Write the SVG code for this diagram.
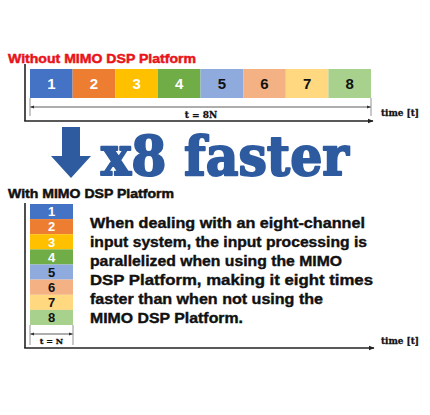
<svg xmlns="http://www.w3.org/2000/svg" width="430" height="415" viewBox="0 0 430 415">
<defs>
<style>
.title{font-family:"Liberation Sans",Arial,sans-serif;font-weight:bold;font-size:13px;stroke-width:0.5px}
.num{font-family:"Liberation Sans",Arial,sans-serif;font-weight:bold;text-anchor:middle}
.w{fill:#fff}.k{fill:#111}
.slab{font-family:"DejaVu Serif",serif;font-weight:bold;fill:#111;stroke:#111;stroke-width:0.3px}
.para{font-family:"Liberation Sans",Arial,sans-serif;font-weight:bold;font-size:15px;fill:#111;stroke:#111;stroke-width:0.4px}
.axis{stroke:#222;stroke-width:1.6;fill:none}
.dim{stroke:#333;stroke-width:0.8;fill:none}
.tick{stroke:#777;stroke-width:0.8;fill:none}
</style>
<marker id="ah" viewBox="0 0 10 10" refX="9" refY="5" markerWidth="6" markerHeight="6" orient="auto-start-reverse" markerUnits="userSpaceOnUse"><path d="M0,1 L10,5 L0,9 z" fill="#222"/></marker>
<marker id="dh" viewBox="0 0 10 10" refX="9" refY="5" markerWidth="4" markerHeight="4" orient="auto-start-reverse" markerUnits="userSpaceOnUse"><path d="M0,1 L10,5 L0,9 z" fill="#333"/></marker>
</defs>
<rect width="430" height="415" fill="#fff"/>

<g id="title-without">
<text class="title" x="8" y="63" fill="#E8141B" stroke="#E8141B" textLength="188" lengthAdjust="spacingAndGlyphs">Without MIMO DSP Platform</text>
</g>

<g id="sequential-bar">
<rect x="30" y="69" width="42.6" height="29" fill="#4472C4"/>
<rect x="72.6" y="69" width="42.7" height="29" fill="#ED7D31"/>
<rect x="115.3" y="69" width="42.6" height="29" fill="#FFC000"/>
<rect x="157.9" y="69" width="42.6" height="29" fill="#70AD47"/>
<rect x="200.5" y="69" width="42.7" height="29" fill="#8FAADC"/>
<rect x="243.2" y="69" width="42.6" height="29" fill="#F4B183"/>
<rect x="285.8" y="69" width="42.6" height="29" fill="#FFD880"/>
<rect x="328.4" y="69" width="42.6" height="29" fill="#A9D18E"/>
<g font-size="15">
<text class="num w" x="51.3" y="89">1</text>
<text class="num w" x="94" y="89">2</text>
<text class="num w" x="136.6" y="89">3</text>
<text class="num w" x="179.2" y="89">4</text>
<text class="num k" x="221.8" y="89">5</text>
<text class="num k" x="264.5" y="89">6</text>
<text class="num k" x="307.1" y="89">7</text>
<text class="num k" x="349.7" y="89">8</text>
</g>
</g>

<g id="arrow-faster">
<path d="M62,127 H80 V156 H91 L71,178 L51,156 H62 Z" fill="#2E5B9F"/>
<text x="101" y="175" font-family="DejaVu Serif,serif" font-weight="bold" font-size="55" fill="#2E5B9F" stroke="#2E5B9F" stroke-width="2" stroke-linejoin="round" textLength="248" lengthAdjust="spacingAndGlyphs">x8 faster</text>
</g>

<g id="title-with">
<text class="title" x="8" y="198" fill="#111" stroke="#111" font-size="12" textLength="166" lengthAdjust="spacingAndGlyphs">With MIMO DSP Platform</text>
</g>

<g id="parallel-stack">
<rect x="30" y="204" width="43" height="15.1" fill="#4472C4"/>
<rect x="30" y="219.1" width="43" height="15.1" fill="#ED7D31"/>
<rect x="30" y="234.2" width="43" height="15.2" fill="#FFC000"/>
<rect x="30" y="249.4" width="43" height="15.1" fill="#70AD47"/>
<rect x="30" y="264.5" width="43" height="15.1" fill="#8FAADC"/>
<rect x="30" y="279.6" width="43" height="15.2" fill="#F4B183"/>
<rect x="30" y="294.8" width="43" height="15.1" fill="#FFD880"/>
<rect x="30" y="309.9" width="43" height="15.1" fill="#A9D18E"/>
<g font-size="13">
<text class="num w" x="51.5" y="216.3">1</text>
<text class="num w" x="51.5" y="231.4">2</text>
<text class="num w" x="51.5" y="246.6">3</text>
<text class="num w" x="51.5" y="261.7">4</text>
<text class="num k" x="51.5" y="276.8">5</text>
<text class="num k" x="51.5" y="292">6</text>
<text class="num k" x="51.5" y="307.1">7</text>
<text class="num k" x="51.5" y="322.2">8</text>
</g>
</g>

<g id="description">
<text class="para" x="90" y="228" textLength="275" lengthAdjust="spacingAndGlyphs">When dealing with an eight-channel</text>
<text class="para" x="90" y="247" textLength="277" lengthAdjust="spacingAndGlyphs">input system, the input processing is</text>
<text class="para" x="90" y="266" textLength="252" lengthAdjust="spacingAndGlyphs">parallelized when using the MIMO</text>
<text class="para" x="90" y="285" textLength="283" lengthAdjust="spacingAndGlyphs">DSP Platform, making it eight times</text>
<text class="para" x="90" y="304" textLength="233" lengthAdjust="spacingAndGlyphs">faster than when not using the</text>
<text class="para" x="90" y="323" textLength="153" lengthAdjust="spacingAndGlyphs">MIMO DSP Platform.</text>
</g>

<g id="connectors">
<line class="axis" x1="25" y1="64" x2="25" y2="121"/>
<line class="axis" x1="24.2" y1="121" x2="373" y2="121" marker-end="url(#ah)"/>
<line class="tick" x1="30" y1="98" x2="30" y2="116"/>
<line class="tick" x1="371" y1="98" x2="371" y2="116"/>
<line class="dim" x1="30.5" y1="107" x2="370.5" y2="107" marker-start="url(#dh)" marker-end="url(#dh)"/>
<line class="axis" x1="25" y1="203" x2="25" y2="348"/>
<line class="axis" x1="24.2" y1="348" x2="374" y2="348" marker-end="url(#ah)"/>
<line class="tick" x1="30" y1="325" x2="30" y2="345"/>
<line class="tick" x1="73" y1="325" x2="73" y2="345"/>
<line class="dim" x1="30.5" y1="334" x2="72.5" y2="334" marker-start="url(#dh)" marker-end="url(#dh)"/>
</g>

<g id="labels">
<text class="slab" x="201" y="118" font-size="9" text-anchor="middle">t = 8N</text>
<text class="slab" x="381" y="116" font-size="10" textLength="38" lengthAdjust="spacingAndGlyphs">time [t]</text>
<text class="slab" x="51.5" y="344" font-size="8" text-anchor="middle">t = N</text>
<text class="slab" x="381" y="344" font-size="10" textLength="38" lengthAdjust="spacingAndGlyphs">time [t]</text>
</g>
</svg>
